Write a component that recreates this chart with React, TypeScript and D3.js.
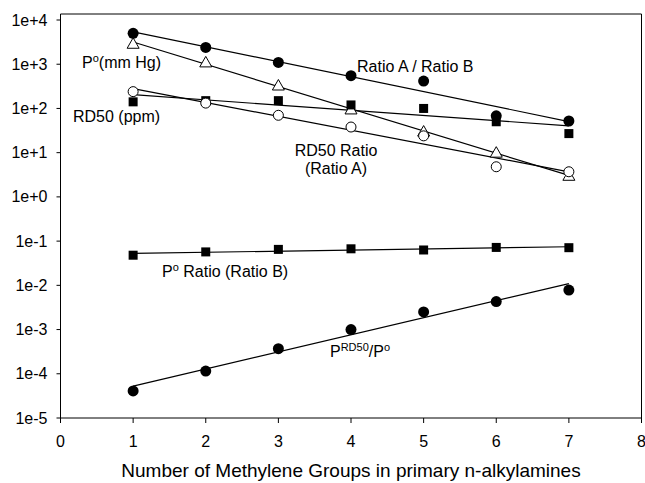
import React from "react";
import * as d3 from "d3";

const xs = [1, 2, 3, 4, 5, 6, 7];
const ratioAB = [5000, 2400, 1100, 550, 415, 68, 52];
const pVapor = [2900, 1100, 330, 95, 30, 10, 3.0];
const rd50ppm = [141, 150, 150, 120, 100, 50, 27];
const rd50Ratio = [240, 132, 70, 38, 24, 4.8, 3.7];
const pRatio = [0.048, 0.057, 0.065, 0.067, 0.063, 0.072, 0.071];
const pRd50OverP = [4.1e-5, 1.15e-4, 3.7e-4, 1.0e-3, 2.5e-3, 4.3e-3, 7.8e-3];

const xTicks = [0, 1, 2, 3, 4, 5, 6, 7, 8];
const yTicks = [1e4, 1e3, 1e2, 1e1, 1e0, 1e-1, 1e-2, 1e-3, 1e-4, 1e-5];
const yTickLabels = ["1e+4", "1e+3", "1e+2", "1e+1", "1e+0", "1e-1", "1e-2", "1e-3", "1e-4", "1e-5"];
const xTitle = "Number of Methylene Groups in primary n-alkylamines";

type Marker = "filledCircle" | "openCircle" | "filledSquare" | "openTriangle";
const seriesList: { values: number[]; marker: Marker }[] = [
  { values: ratioAB, marker: "filledCircle" },
  { values: pVapor, marker: "openTriangle" },
  { values: rd50ppm, marker: "filledSquare" },
  { values: rd50Ratio, marker: "openCircle" },
  { values: pRatio, marker: "filledSquare" },
  { values: pRd50OverP, marker: "filledCircle" },
];

function fit(values: number[]) {
  const ly = values.map((v) => Math.log10(v));
  const mx = d3.mean(xs)!;
  const my = d3.mean(ly)!;
  let num = 0, den = 0;
  xs.forEach((x, i) => { num += (x - mx) * (ly[i] - my); den += (x - mx) ** 2; });
  const b = num / den;
  const a = my - b * mx;
  return (x: number) => Math.pow(10, a + b * x);
}

export default function App() {
  const W = 645, H = 483;
  const left = 60.5, right = 641.5, top = 14, bottom = 418;
  const x = d3.scaleLinear().domain([0, 8]).range([left, right]);
  const y = d3.scaleLog().domain([1e-5, 1e4]).range([bottom, 20]);
  const font = "Arial, 'Liberation Sans', sans-serif";

  const renderMarker = (m: Marker, cx: number, cy: number, key: string) => {
    if (m === "filledCircle") return <circle key={key} cx={cx} cy={cy} r={5.5} fill="#000" />;
    if (m === "openCircle") return <circle key={key} cx={cx} cy={cy} r={5} fill="#fff" stroke="#000" strokeWidth={1} />;
    if (m === "filledSquare") return <rect key={key} x={cx - 4.5} y={cy - 4.5} width={9} height={9} fill="#000" />;
    const s = 6;
    return <path key={key} d={`M${cx},${cy - s}L${cx + s},${cy + s * 0.75}L${cx - s},${cy + s * 0.75}Z`} fill="#fff" stroke="#000" strokeWidth={1} />;
  };

  return (
    <svg width={W} height={H} style={{ position: "absolute", left: 0, top: 0, background: "#fff" }} fontFamily={font}>
      <rect x={0} y={0} width={W} height={H} fill="#fff" />
      {/* frame */}
      <line x1={left} x2={right} y1={top} y2={top} stroke="#000" strokeWidth={1} />
      <line x1={right} x2={right} y1={top} y2={bottom} stroke="#000" strokeWidth={1} />
      <line x1={left} x2={left} y1={top} y2={bottom} stroke="#000" strokeWidth={1} />
      <line x1={left} x2={right} y1={bottom} y2={bottom} stroke="#000" strokeWidth={1} />
      {/* y ticks */}
      {yTicks.map((t, i) => (
        <g key={"yt" + i}>
          <line x1={left - 4} x2={left} y1={y(t)} y2={y(t)} stroke="#000" />
          <text x={left - 13} y={y(t)} dy="0.35em" textAnchor="end" fontSize={16}>{yTickLabels[i]}</text>
        </g>
      ))}
      {/* x ticks */}
      {xTicks.map((t) => (
        <g key={"xt" + t}>
          <line x1={x(t)} x2={x(t)} y1={bottom} y2={bottom + 5} stroke="#000" />
          <text x={x(t)} y={bottom + 29} textAnchor="middle" fontSize={16}>{t}</text>
        </g>
      ))}
      <text x={(left + right) / 2} y={H - 6} textAnchor="middle" fontSize={19}>{xTitle}</text>
      {/* fit lines */}
      {seriesList.map((s, i) => {
        const f = fit(s.values);
        return <line key={"fl" + i} x1={x(1)} y1={y(f(1))} x2={x(7)} y2={y(f(7))} stroke="#000" strokeWidth={1.2} />;
      })}
      {/* markers */}
      {seriesList.map((s, i) => s.values.map((v, j) => renderMarker(s.marker, x(xs[j]), y(v), `m${i}-${j}`)))}
      {/* labels */}
      <text x={82} y={68} fontSize={16}>P<tspan dy={-6} fontSize={11}>o</tspan><tspan dy={6}>(mm Hg)</tspan></text>
      <text x={73} y={122} fontSize={16}>RD50 (ppm)</text>
      <text x={357} y={72} fontSize={16}>Ratio A / Ratio B</text>
      <text x={336} y={156} fontSize={16} textAnchor="middle">RD50 Ratio</text>
      <text x={336} y={174} fontSize={16} textAnchor="middle">(Ratio A)</text>
      <text x={162} y={277} fontSize={16}>P<tspan dy={-6} fontSize={11}>o</tspan><tspan dy={6}> Ratio (Ratio B)</tspan></text>
      <text x={330} y={357} fontSize={16}>P<tspan dy={-6} fontSize={11}>RD50</tspan><tspan dy={6}>/P</tspan><tspan dy={-6} fontSize={11}>o</tspan></text>
    </svg>
  );
}
